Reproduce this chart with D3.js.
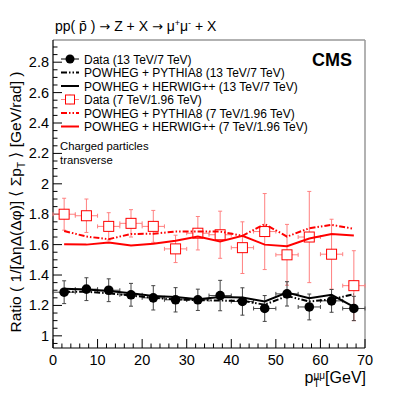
<!DOCTYPE html>
<html>
<head>
<meta charset="utf-8">
<script src="https://cdn.jsdelivr.net/npm/d3@7"></script>
<style>
  body { margin: 0; background: #fff; }
  text { font-family: "Liberation Sans", Arial, sans-serif; }
</style>
</head>
<body>
<svg id="chart" width="407" height="396"></svg>
<script>
// bin centres in GeV (5 GeV bins)
const binCenters = [2.5, 7.5, 12.5, 17.5, 22.5, 27.5, 32.5, 37.5, 42.5, 47.5, 52.5, 57.5, 62.5, 67.5];
const binHalfWidth = 2.5;

// 13 TeV / 7 TeV
const data13 = [1.287, 1.307, 1.300, 1.270, 1.250, 1.237, 1.237, 1.265, 1.226, 1.180, 1.276, 1.190, 1.230, 1.180];
const data13Err = [0.075, 0.075, 0.075, 0.075, 0.08, 0.08, 0.07, 0.10, 0.09, 0.085, 0.08, 0.085, 0.075, 0.08];
const pythia13 = [1.290, 1.290, 1.280, 1.265, 1.250, 1.240, 1.235, 1.232, 1.230, 1.205, 1.262, 1.226, 1.240, 1.274];
const herwig13 = [1.310, 1.305, 1.295, 1.280, 1.262, 1.255, 1.240, 1.255, 1.252, 1.226, 1.285, 1.248, 1.270, 1.190];

// 7 TeV / 1.96 TeV
const data7 = [1.800, 1.790, 1.720, 1.740, 1.720, 1.572, 1.675, 1.665, 1.580, 1.686, 1.533, 1.650, 1.537, 1.330];
const data7Err = [0.105, 0.11, 0.09, 0.09, 0.105, 0.09, 0.11, 0.155, 0.17, 0.25, 0.20, 0.30, 0.23, 0.23];
const pythia7 = [1.690, 1.653, 1.636, 1.670, 1.672, 1.686, 1.686, 1.686, 1.658, 1.735, 1.653, 1.708, 1.730, 1.704];
const herwig7 = [1.603, 1.600, 1.614, 1.594, 1.605, 1.625, 1.653, 1.620, 1.658, 1.600, 1.590, 1.640, 1.670, 1.660];

const xTicks = [0, 10, 20, 30, 40, 50, 60, 70];
const yTicks = [1, 1.2, 1.4, 1.6, 1.8, 2, 2.2, 2.4, 2.6, 2.8];

const legendLabels = [
  "Data (13 TeV/7 TeV)",
  "POWHEG + PYTHIA8 (13 TeV/7 TeV)",
  "POWHEG + HERWIG++ (13 TeV/7 TeV)",
  "Data (7 TeV/1.96 TeV)",
  "POWHEG + PYTHIA8 (7 TeV/1.96 TeV)",
  "POWHEG + HERWIG++ (7 TeV/1.96 TeV)"
];

const svg = d3.select("#chart");
const plotLeft = 53, plotRight = 365, plotTop = 40, plotBottom = 348;

const x = d3.scaleLinear().domain([0, 70]).range([plotLeft, plotRight]);
const y = d3.scaleLinear().domain([0.92, 2.946]).range([plotBottom, plotTop]);

const dashDot = "6,2,1.5,2,1.5,2";
const red = "#ff0000";

// frame
svg.append("line").attr("x1", plotLeft).attr("x2", plotRight).attr("y1", plotTop).attr("y2", plotTop)
  .attr("stroke", "#999").attr("stroke-width", 1.5);
svg.append("line").attr("x1", plotRight).attr("x2", plotRight).attr("y1", plotTop).attr("y2", plotBottom)
  .attr("stroke", "#999").attr("stroke-width", 1.5);

// x axis
const xAxis = svg.append("g").attr("transform", `translate(0,${plotBottom})`);
xAxis.append("line").attr("x1", plotLeft).attr("x2", plotRight).attr("stroke", "#000").attr("stroke-width", 1.2);
d3.range(0, 70.01, 2).forEach(v => {
  const major = v % 10 === 0;
  xAxis.append("line").attr("x1", x(v)).attr("x2", x(v))
    .attr("y1", 0).attr("y2", major ? -9 : -4.5)
    .attr("stroke", "#000").attr("stroke-width", 1);
});
xAxis.selectAll("text.tick").data(xTicks).join("text")
  .attr("x", d => x(d)).attr("y", 16.5).attr("text-anchor", "middle")
  .attr("font-size", 14.5).text(d => d);

// y axis
const yAxis = svg.append("g").attr("transform", `translate(${plotLeft},0)`);
yAxis.append("line").attr("y1", plotTop).attr("y2", plotBottom).attr("stroke", "#000").attr("stroke-width", 1.2);
d3.range(0.95, 2.946, 0.05).forEach(v => {
  const major = Math.abs(Math.round(v * 5) - v * 5) < 1e-6;
  yAxis.append("line").attr("x1", 0).attr("x2", major ? 9 : 4.5)
    .attr("y1", y(v)).attr("y2", y(v))
    .attr("stroke", "#000").attr("stroke-width", 1);
});
yAxis.selectAll("text.tick").data(yTicks).join("text")
  .attr("x", -4).attr("y", d => y(d) + 5).attr("text-anchor", "end")
  .attr("font-size", 14.5).text(d => d);

// y title
const yTitle = svg.append("text")
  .attr("transform", `translate(21,202) rotate(-90)`)
  .attr("text-anchor", "middle").attr("font-size", 15.5);
yTitle.append("tspan").text("Ratio ( 1/[ΔηΔ(Δφ)] ⟨ Σp");
yTitle.append("tspan").attr("font-size", 10).attr("dy", 4).text("T");
yTitle.append("tspan").attr("dy", -4).text(" ⟩ [GeV/rad] )");

// x title
const xTitle = svg.append("text").attr("x", plotRight + 1).attr("y", 383)
  .attr("text-anchor", "end").attr("font-size", 16);
xTitle.append("tspan").text("p");
xTitle.append("tspan").attr("font-size", 10).attr("dy", 4).text("T");
xTitle.append("tspan").attr("font-size", 10).attr("dx", -6).attr("dy", -8).text("μμ");
xTitle.append("tspan").attr("dy", 4).text("[GeV]");

// header
const header = svg.append("text").attr("x", 55).attr("y", 31).attr("font-size", 14);
header.append("tspan").text("pp( p\u0304 ) ");
header.append("tspan").attr("font-family", "DejaVu Sans").attr("font-size", 13).text("→");
header.append("tspan").text(" Z + X ");
header.append("tspan").attr("font-family", "DejaVu Sans").attr("font-size", 13).text("→");
header.append("tspan").text(" μ");
header.append("tspan").attr("font-size", 9).attr("dy", -5).text("+");
header.append("tspan").attr("font-size", 14).attr("dy", 5).text("μ");
header.append("tspan").attr("font-size", 9).attr("dy", -5).text("-");
header.append("tspan").attr("font-size", 14).attr("dy", 5).text(" + X");

svg.append("text").attr("x", 352).attr("y", 66).attr("text-anchor", "end")
  .attr("font-size", 18).attr("font-weight", "bold").text("CMS");

svg.append("text").attr("x", 60).attr("y", 150).attr("font-size", 11.3).text("Charged particles");
svg.append("text").attr("x", 60).attr("y", 164).attr("font-size", 11.3).text("transverse");

// curves
const line = d3.line().x((d, i) => x(binCenters[i])).y(d => y(d));
function drawCurve(vals, color, dash) {
  svg.append("path").datum(vals).attr("d", line)
    .attr("fill", "none").attr("stroke", color).attr("stroke-width", 2)
    .attr("stroke-dasharray", dash || null);
}

function drawData(vals, errs, barColor, marker) {
  const g = svg.append("g");
  vals.forEach((v, i) => {
    const cx = x(binCenters[i]);
    g.append("line").attr("x1", x(binCenters[i] - binHalfWidth)).attr("x2", x(binCenters[i] + binHalfWidth))
      .attr("y1", y(v)).attr("y2", y(v)).attr("stroke", barColor).attr("stroke-width", 1);
    g.append("line").attr("x1", cx).attr("x2", cx)
      .attr("y1", y(v - errs[i])).attr("y2", y(v + errs[i])).attr("stroke", barColor).attr("stroke-width", 1);
    [v - errs[i], v + errs[i]].forEach(e => {
      g.append("line").attr("x1", cx - 2).attr("x2", cx + 2).attr("y1", y(e)).attr("y2", y(e))
        .attr("stroke", barColor).attr("stroke-width", 1);
    });
    [binCenters[i] - binHalfWidth, binCenters[i] + binHalfWidth].forEach(e => {
      g.append("line").attr("x1", x(e)).attr("x2", x(e)).attr("y1", y(v) - 2).attr("y2", y(v) + 2)
        .attr("stroke", barColor).attr("stroke-width", 1);
    });
  });
  vals.forEach((v, i) => {
    const cx = x(binCenters[i]);
    if (marker === "circle") {
      g.append("circle").attr("cx", cx).attr("cy", y(v)).attr("r", 4.8).attr("fill", "#000");
    } else {
      g.append("rect").attr("x", cx - 5).attr("y", y(v) - 5).attr("width", 10).attr("height", 10)
        .attr("fill", "#fff").attr("stroke", red).attr("stroke-width", 1);
    }
  });
}

drawData(data7, data7Err, "#ff8080", "square");
drawCurve(pythia7, red, dashDot);
drawCurve(herwig7, red);

drawData(data13, data13Err, "#444", "circle");
drawCurve(pythia13, "#000", dashDot);
drawCurve(herwig13, "#000");

// legend
const legY = [59, 72.5, 86, 99.5, 113, 126.5];
const legStyles = [
  { type: "data", color: "#000" },
  { type: "line", color: "#000", dash: dashDot },
  { type: "line", color: "#000" },
  { type: "data7", color: red },
  { type: "line", color: red, dash: dashDot },
  { type: "line", color: red }
];
legendLabels.forEach((lab, i) => {
  const s = legStyles[i], yy = legY[i];
  if (s.type === "line") {
    svg.append("line").attr("x1", 61).attr("x2", 79).attr("y1", yy).attr("y2", yy)
      .attr("stroke", s.color).attr("stroke-width", 2).attr("stroke-dasharray", s.dash || null);
  } else if (s.type === "data") {
    svg.append("line").attr("x1", 61).attr("x2", 79).attr("y1", yy).attr("y2", yy).attr("stroke", "#000");
    svg.append("circle").attr("cx", 70).attr("cy", yy).attr("r", 4.5).attr("fill", "#000");
  } else {
    svg.append("line").attr("x1", 61).attr("x2", 79).attr("y1", yy).attr("y2", yy).attr("stroke", "#ff8080");
    svg.append("line").attr("x1", 70).attr("x2", 70).attr("y1", yy - 5).attr("y2", yy + 5).attr("stroke", "#ff8080");
    svg.append("rect").attr("x", 65.5).attr("y", yy - 4.5).attr("width", 9).attr("height", 9)
      .attr("fill", "#fff").attr("stroke", red);
  }
  svg.append("text").attr("x", 84).attr("y", yy + 4.5).attr("font-size", 12).text(lab);
});
</script>
</body>
</html>
